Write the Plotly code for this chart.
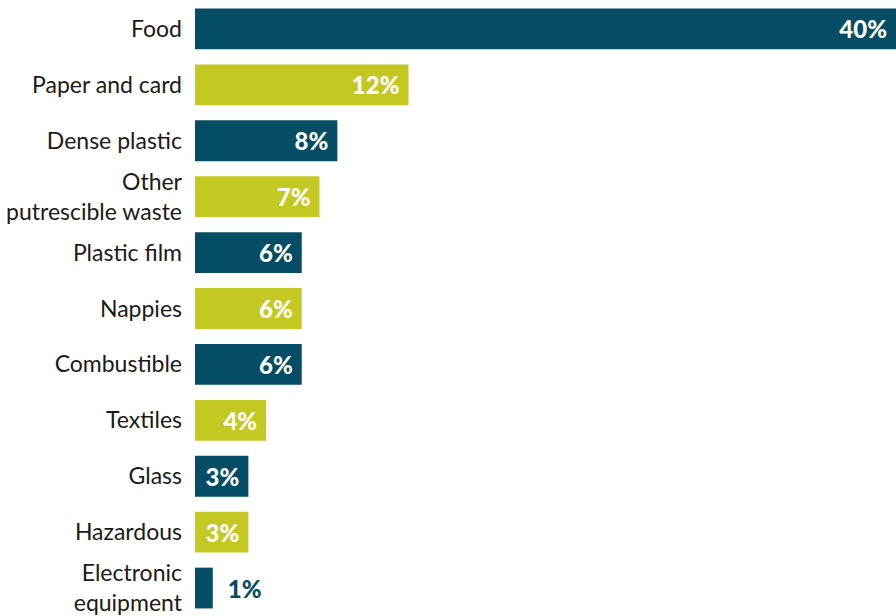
import plotly.graph_objects as go

categories = ["Food", "Paper and card", "Dense plastic", "Other<br>putrescible waste",
              "Plastic film", "Nappies", "Combustible", "Textiles", "Glass",
              "Hazardous", "Electronic<br>equipment"]
values = [39.4, 12.0, 8.0, 7.0, 6.0, 6.0, 6.0, 4.0, 3.0, 3.0, 1.0]
labels = ["40%", "12%", "8%", "7%", "6%", "6%", "6%", "4%", "3%", "3%", "1%"]

DARK = "#044d64"
LIME = "#c3c921"
colors = [DARK if i % 2 == 0 else LIME for i in range(len(categories))]
positions = ["inside"] * (len(categories) - 1) + ["outside"]
shown = [t + "\u2005" if p == "inside" else "\u2002" + t for t, p in zip(labels, positions)]

fig = go.Figure(go.Bar(
    y=categories, x=values, orientation="h",
    marker=dict(color=colors, line=dict(width=0)),
    text=shown, textposition=positions, insidetextanchor="end",
    insidetextfont=dict(color="white", size=24, family="Lato", weight=900),
    outsidetextfont=dict(color=DARK, size=24, family="Lato", weight=900),
    textangle=0, cliponaxis=False,
))

fig.update_layout(
    width=896, height=616,
    margin=dict(l=195, r=0, t=1, b=0),
    plot_bgcolor="white", paper_bgcolor="white",
    bargap=0.27, showlegend=False,
    uniformtext=dict(mode=False),
    xaxis=dict(range=[0, 39.4], visible=False, fixedrange=True),
    yaxis=dict(autorange="reversed", showgrid=False, zeroline=False, showline=False,
               ticks="", ticklabelstandoff=12,
               tickfont=dict(family="Lato", size=23, color="#1a1a1a")),
)

fig.write_html("out.html")
